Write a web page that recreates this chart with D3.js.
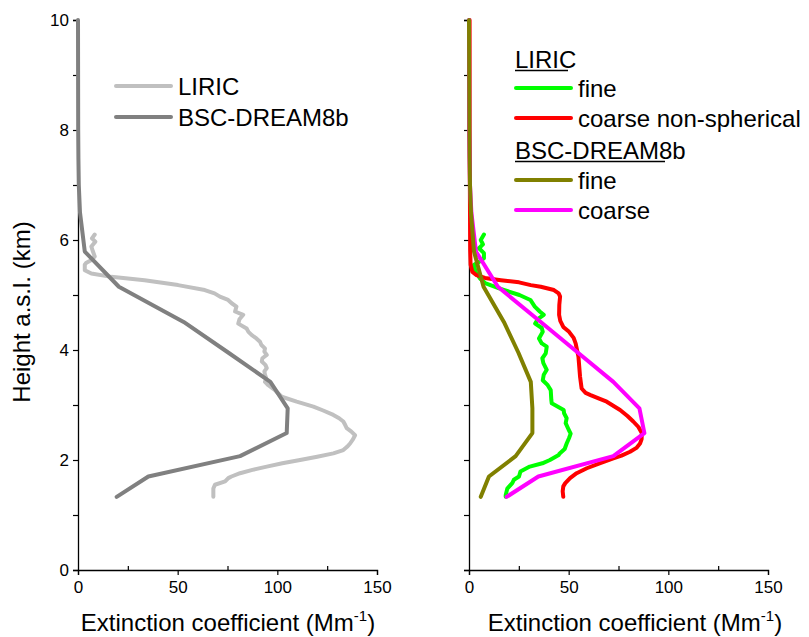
<!DOCTYPE html>
<html><head><meta charset="utf-8">
<script src="https://cdn.jsdelivr.net/npm/d3@7"></script>
<style>
html,body{margin:0;padding:0;background:#fff;}
svg{display:block;font-family:"Liberation Sans",Arial,sans-serif;}
</style></head>
<body>
<script>
// ---- Data ----
const yTicks = [0, 2, 4, 6, 8, 10];
const yMinorTicks = [1, 3, 5, 7, 9];
const xTicks = [0, 50, 100, 150];
const xMinorTicks = [25, 75, 125];

// Model (BSC-DREAM8b) levels, km
const modelHeight = [10, 8, 7.5, 7, 6.5, 5.79, 5.15, 4.51, 3.95, 3.42, 2.94, 2.49, 2.07, 1.70, 1.33];
const dreamTotal  = [0, 0.1, 0.2, 0.4, 1.0, 3.4, 20.5, 53.0, 75.5, 96.5, 105.2, 104.7, 81.3, 35.3, 19.4];
const dreamFine   = [0, 0.2, 0.3, 0.5, 1.0, 2.5, 7.3, 17.5, 24.8, 31.0, 31.8, 31.8, 23.4, 10.0, 5.9];
const dreamCoarse = [0, 0.1, 0.3, 0.5, 1.2, 3.5, 14.5, 36.0, 54.7, 72.4, 85.5, 88.0, 72.4, 34.8, 18.9];

// LIRIC total extinction
const liricHeight = [6.10,6.03,5.97,5.88,5.79,5.70,5.64,5.58,5.55,5.45,5.39,5.33,5.27,5.18,5.09,5.03,4.97,4.91,4.85,4.79,4.70,4.64,4.56,4.48,4.39,4.33,4.27,4.21,4.15,4.09,4.03,3.97,3.91,3.85,3.79,3.73,3.67,3.61,3.55,3.48,3.42,3.36,3.27,3.21,3.15,3.06,2.97,2.90,2.82,2.76,2.70,2.64,2.58,2.52,2.45,2.38,2.30,2.24,2.18,2.12,2.06,2.00,1.94,1.88,1.82,1.76,1.70,1.67,1.61,1.55,1.48,1.33];
const liricTotal  = [8.4,7.0,8.7,6.7,7.5,8.4,7.0,4.0,3.4,3.4,6.7,16.7,33.4,50.2,63.6,68.5,71.2,75.3,77.1,79.5,78.8,82.9,81.0,80.4,84.6,85.5,87.2,89.5,91.3,92.0,93.8,93.5,94.7,92.5,92.2,94.0,94.7,93.5,93.8,94.5,93.8,95.5,98.8,100.5,102.2,109.7,118.1,123.0,128.1,131.0,133.1,134.0,134.8,137.0,139.0,138.0,136.5,135.0,133.1,128.1,120.0,111.4,102.5,94.7,87.5,81.3,77.0,75.4,73.8,68.7,67.9,67.9];

// LIRIC fine
const fineHeight = [6.10,6.00,5.92,5.85,5.76,5.67,5.60,5.55,5.42,5.30,5.21,5.12,5.00,4.91,4.79,4.70,4.64,4.56,4.48,4.40,4.33,4.21,4.12,4.06,3.94,3.85,3.76,3.64,3.55,3.45,3.36,3.27,3.09,3.03,2.91,2.85,2.76,2.67,2.55,2.48,2.40,2.30,2.20,2.12,2.09,2.00,1.94,1.88,1.79,1.70,1.64,1.58,1.48,1.36,1.33];
const liricFine  = [7.5,5.9,7.0,5.0,7.5,7.5,5.0,2.5,3.3,5.5,8.4,15.1,25.3,30.8,33.0,35.5,37.5,34.5,33.2,36.5,37.0,35.1,36.5,39.0,38.5,36.8,37.3,39.0,37.5,37.0,39.5,41.0,41.3,41.5,47.5,47.7,49.0,48.5,50.0,51.0,50.2,49.0,48.0,45.5,45.0,40.6,36.8,30.5,25.8,25.1,22.5,21.7,19.2,18.4,18.4];

// LIRIC coarse non-spherical
const coarseHeight = [10,8,6.5,5.8,5.55,5.42,5.36,5.31,5.27,5.23,5.18,5.15,5.09,5.03,4.97,4.82,4.64,4.53,4.42,4.33,4.22,4.12,3.88,3.52,3.30,3.22,3.18,3.12,3.06,2.91,2.80,2.70,2.60,2.49,2.38,2.30,2.22,2.15,2.08,2.03,1.94,1.85,1.76,1.67,1.58,1.52,1.43,1.33];
const liricCoarse  = [0.3,0.3,0.5,0.6,0.8,1.7,3.8,8,16,25.1,31,36,42.6,45,45.7,45.3,45.2,45.8,47.3,50.2,52.5,53.5,54.9,55.7,56.5,58.5,61,65,69.1,75.8,79.5,82.4,85,86.7,86.6,85.8,84,80.8,76.5,72.4,65.5,59.1,54,50.7,48.3,47.3,47,47.3];

// ---- Layout ----
const W = 809, H = 637;
const svg = d3.select("body").append("svg").attr("width", W).attr("height", H);
const y = d3.scaleLinear().domain([0, 10]).range([570, 20]);
const xL = d3.scaleLinear().domain([0, 150]).range([78, 377]);
const xR = d3.scaleLinear().domain([0, 150]).range([469, 768]);

function drawAxes(x, withLabels) {
  const g = svg.append("g");
  g.append("g").attr("transform", `translate(${x(0)},0)`)
    .call(d3.axisLeft(y).tickValues(yTicks).tickSize(5).tickPadding(4)
      .tickFormat(withLabels ? d3.format("d") : () => ""))
    .call(a => a.select(".domain").attr("stroke", "#000").attr("stroke-width", 1.3))
    .call(a => a.selectAll("text").attr("font-size", 17).attr("fill", "#000").attr("font-family", "'Liberation Sans',Arial,sans-serif"));
  g.append("g").attr("transform", `translate(${x(0)},0)`)
    .call(d3.axisLeft(y).tickValues(yMinorTicks).tickSize(5).tickFormat(() => ""))
    .call(a => a.select(".domain").remove());
  g.append("g").attr("transform", `translate(0,${y(0)})`)
    .call(d3.axisBottom(x).tickValues(xTicks).tickSize(5).tickPadding(6).tickFormat(d3.format("d")))
    .call(a => a.select(".domain").attr("stroke", "#000").attr("stroke-width", 1.3))
    .call(a => a.selectAll("text").attr("font-size", 17).attr("fill", "#000").attr("font-family", "'Liberation Sans',Arial,sans-serif"));
  g.append("g").attr("transform", `translate(0,${y(0)})`)
    .call(d3.axisTop(x).tickValues(xMinorTicks).tickSize(4).tickFormat(() => ""))
    .call(a => a.select(".domain").remove());
  g.selectAll(".tick line").attr("stroke", "#000").attr("stroke-width", 1.2);
}

function xTitle(cx) {
  const t = svg.append("text").attr("x", cx).attr("y", 631).attr("text-anchor", "middle")
    .attr("font-size", 24).attr("fill", "#000");
  t.append("tspan").text("Extinction coefficient (Mm");
  t.append("tspan").attr("font-size", 15).attr("dy", -10).text("-1");
  t.append("tspan").attr("dy", 10).text(")");
}

function drawLine(x, hs, vs, color) {
  const pts = hs.map((h, i) => [vs[i], h]);
  svg.append("path").datum(pts)
    .attr("fill", "none").attr("stroke", color).attr("stroke-width", 4)
    .attr("stroke-linejoin", "round").attr("stroke-linecap", "round")
    .attr("d", d3.line().x(d => x(d[0])).y(d => y(d[1])));
}

function legendItem(x1, x2, yy, color, label, tx) {
  svg.append("line").attr("x1", x1).attr("x2", x2).attr("y1", yy).attr("y2", yy)
    .attr("stroke", color).attr("stroke-width", 4).attr("stroke-linecap", "round");
  svg.append("text").attr("x", tx).attr("y", yy + 9).attr("font-size", 24).attr("fill", "#000").text(label);
}

// Left panel
drawAxes(xL, true);
drawLine(xL, liricHeight, liricTotal, "#c0c0c0");
drawLine(xL, modelHeight, dreamTotal, "#808080");
xTitle(228);
svg.append("text").attr("transform", "translate(30,312) rotate(-90)")
  .attr("text-anchor", "middle").attr("font-size", 24).attr("fill", "#000")
  .text("Height a.s.l. (km)");
legendItem(116, 171, 86, "#c0c0c0", "LIRIC", 178);
legendItem(116, 171, 117, "#808080", "BSC-DREAM8b", 178);

// Right panel
drawAxes(xR, false);
drawLine(xR, fineHeight, liricFine, "#00ff00");
drawLine(xR, coarseHeight, liricCoarse, "#ff0000");
drawLine(xR, modelHeight, dreamCoarse, "#ff00ff");
drawLine(xR, modelHeight, dreamFine, "#808000");
xTitle(635);

svg.append("text").attr("x", 515).attr("y", 68).attr("font-size", 24).attr("fill", "#000").text("LIRIC");
svg.append("line").attr("x1", 515).attr("x2", 568).attr("y1", 70.5).attr("y2", 70.5).attr("stroke", "#000").attr("stroke-width", 1.5);
legendItem(516, 571, 88, "#00ff00", "fine", 578);
legendItem(516, 571, 118, "#ff0000", "coarse non-spherical", 578);
svg.append("text").attr("x", 515).attr("y", 159).attr("font-size", 24).attr("fill", "#000").text("BSC-DREAM8b");
svg.append("line").attr("x1", 515).attr("x2", 665).attr("y1", 161.5).attr("y2", 161.5).attr("stroke", "#000").attr("stroke-width", 1.5);
legendItem(516, 571, 180, "#808000", "fine", 578);
legendItem(516, 571, 210, "#ff00ff", "coarse", 578);
</script>
</body></html>
